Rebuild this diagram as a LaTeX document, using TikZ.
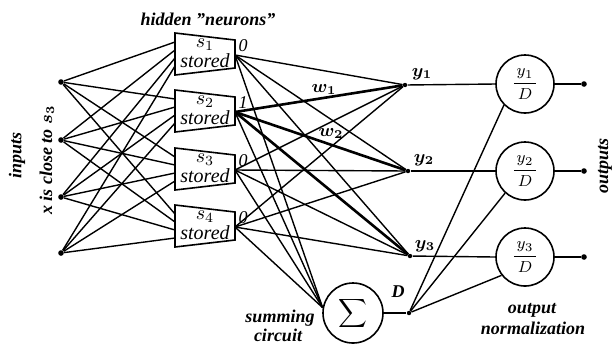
\documentclass[tikz,border=0pt]{standalone}
\usepackage{fontspec}
\setmainfont{Liberation Serif}
\begin{document}
\begin{tikzpicture}[x=0.5pt,y=-0.5pt,
  conn/.style={line width=0.7pt},
  heavy/.style={line width=1.3pt},
  dotn/.style={circle,fill,inner sep=0pt,minimum size=2.8pt},
  ydot/.style={circle,fill,inner sep=0pt,minimum size=2.2pt},
  lbl/.style={font=\fontsize{9}{10}\selectfont\bfseries\itshape\boldmath,inner sep=0pt},
  boxtxt/.style={font=\fontsize{10}{11}\selectfont\itshape,inner sep=0pt},
  outlbl/.style={font=\fontsize{9}{10}\selectfont\itshape,inner sep=0pt},
  circ/.style={circle,draw,line width=0.8pt,minimum size=29pt,inner sep=0pt},
  trap/.style={draw,line width=0.8pt,fill=white}]
\useasboundingbox (0,0) rectangle (615,345);

% inputs
\node[dotn] (in1) at (61,82) {};
\node[dotn] (in2) at (61,140) {};
\node[dotn] (in3) at (61,197) {};
\node[dotn] (in4) at (61,253) {};

% hidden boxes coordinates
\foreach \j/\c in {1/54,2/111,3/169,4/226}{
  \coordinate (h\j a) at (175,\c-21);
  \coordinate (h\j b) at (235,\c-14);
  \coordinate (h\j c) at (235,\c+14);
  \coordinate (h\j d) at (175,\c+21);
  \coordinate (h\j out) at (235,\c+1);
  \foreach \i/\o in {1/-12,2/-4,3/4,4/12}{
    \coordinate (h\j in\i) at (175,\c+\o);
  }
}

% input connections
\foreach \i in {1,2,3,4}{
  \foreach \j in {1,2,3,4}{
    \draw[conn] (in\i) -- (h\j in\i);
  }
}

% y nodes, sum, outputs
\node[ydot] (y1) at (405,85) {};
\node[ydot] (y2) at (408,171) {};
\node[ydot] (y3) at (410,256) {};
\node[circ,minimum size=30pt] (sum) at (353,313) {\fontsize{11}{11}\selectfont$\displaystyle\sum$};
\node[ydot] (Dn) at (409,313) {};
\node[circ] (o1) at (525,84) {\fontsize{8}{9}\selectfont$\displaystyle\frac{\,y_1\,}{D}$};
\node[circ] (o2) at (525,171) {\fontsize{8}{9}\selectfont$\displaystyle\frac{\,y_2\,}{D}$};
\node[circ] (o3) at (525,257) {\fontsize{8}{9}\selectfont$\displaystyle\frac{\,y_3\,}{D}$};
\node[dotn] (out1) at (584,84) {};
\node[dotn] (out2) at (584,171) {};
\node[dotn] (out3) at (584,257) {};

% hidden to y and sum
\foreach \j in {1,3,4}{
  \foreach \k in {1,2,3}{
    \draw[conn] (h\j out) -- (y\k);
  }
  \draw[conn] (h\j out) -- (sum.170);
}
\foreach \k in {1,2,3}{
  \draw[heavy] (h2out) -- (y\k);
}
\draw[conn] (h2out) -- (sum.170);

% boxes on top
\foreach \j/\c in {1/54,2/111,3/169,4/226}{
  \draw[trap] (h\j a) -- (h\j b) -- (h\j c) -- (h\j d) -- cycle;
  \node[boxtxt] (s\j) at (205,\c-9) {$s_{\j}$};
  \node[boxtxt] (st\j) at (205,\c+7) {stored};
}
\node[outlbl] (v1) at (243,46) {0};
\node[outlbl] (v2) at (243,103) {1};
\node[outlbl] (v3) at (243,161) {0};
\node[outlbl] (v4) at (243,218) {0};

% y to outputs
\draw[conn] (y1) -- (o1.west);
\draw[conn] (y2) -- (o2.west);
\draw[conn] (y3) -- (o3.west);
\draw[conn] (sum.east) -- (Dn);
\draw[conn] (Dn) -- (o1.225);
\draw[conn] (Dn) -- (o2.228);
\draw[conn] (Dn) -- (o3.218);
\draw[conn] (o1.east) -- (out1);
\draw[conn] (o2.east) -- (out2);
\draw[conn] (o3.east) -- (out3);

% labels
\node[lbl] (tyl1) at (422,74) {$y_1$};
\node[lbl] (tyl2) at (424,160) {$y_2$};
\node[lbl] (tyl3) at (425,246) {$y_3$};
\node[lbl] (tw1) at (324,89) {$w_1$};
\node[lbl] (tw2) at (331,133) {$w_2$};
\node[lbl] (tD) at (398,292) {D};
\node[lbl] (thid) at (208,19) {hidden "neurons"};
\node[lbl,rotate=90] (tin) at (17,155) {inputs};
\node[lbl,rotate=90] (tx) at (47,160) {x is close to $s_3$};
\node[lbl,rotate=90] (tout) at (605,166) {outputs};
\node[lbl] (tsum1) at (280,318) {summing};
\node[lbl] (tsum2) at (278,335) {circuit};
\node[lbl] (tno1) at (532,310) {output};
\node[lbl] (tno2) at (533,328) {normalization};
\end{tikzpicture}
\end{document}
